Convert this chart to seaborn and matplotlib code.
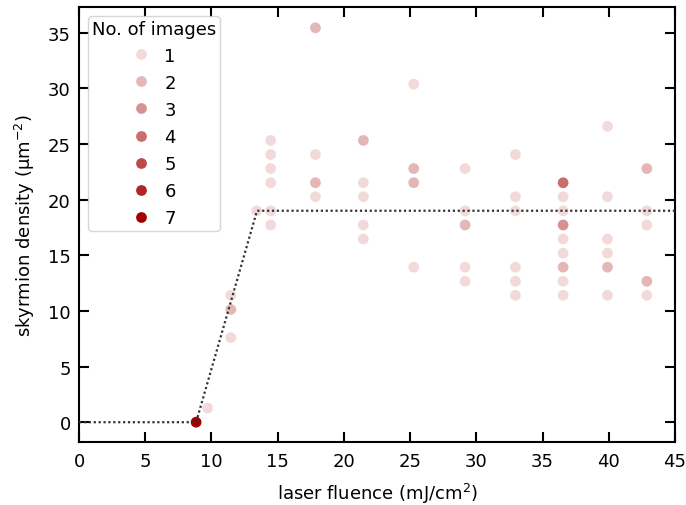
import matplotlib
matplotlib.use("Agg")
import matplotlib.pyplot as plt
import seaborn as sns
import pandas as pd

# ---- data ----
fluence = [8.84, 9.71,
           11.46, 11.46, 11.46,
           13.41,
           14.47, 14.47, 14.47, 14.47, 14.47, 14.47,
           17.85, 17.85, 17.85, 17.85,
           21.47, 21.47, 21.47, 21.47, 21.47,
           25.27, 25.27, 25.27, 25.27,
           29.15, 29.15, 29.15, 29.15, 29.15,
           32.95, 32.95, 32.95, 32.95, 32.95, 32.95,
           36.55, 36.55, 36.55, 36.55, 36.55, 36.55, 36.55, 36.55, 36.55,
           39.90, 39.90, 39.90, 39.90, 39.90, 39.90,
           42.87, 42.87, 42.87, 42.87, 42.87]
density = [0.0, 1.27,
           11.40, 10.13, 7.60,
           18.99,
           25.32, 24.05, 22.79, 21.52, 18.99, 17.72,
           35.44, 24.05, 21.52, 20.26,
           25.32, 21.52, 20.26, 17.72, 16.46,
           30.38, 22.79, 21.52, 13.93,
           22.79, 18.99, 17.72, 13.93, 12.66,
           24.05, 20.26, 18.99, 13.93, 12.66, 11.40,
           21.52, 20.26, 18.99, 17.72, 16.46, 15.19, 13.93, 12.66, 11.40,
           26.59, 20.26, 16.46, 15.19, 13.93, 11.40,
           22.79, 18.99, 17.72, 12.66, 11.40]
n_images = [7, 1,
            1, 2, 1,
            1,
            1, 1, 1, 1, 1, 1,
            2, 1, 2, 1,
            2, 1, 1, 1, 1,
            1, 2, 2, 1,
            1, 1, 2, 1, 1,
            1, 1, 1, 1, 1, 1,
            4, 1, 1, 3, 1, 1, 2, 1, 1,
            1, 1, 1, 1, 2, 1,
            2, 1, 1, 2, 1]
levels = [1, 2, 3, 4, 5, 6, 7]

fit_x = [0.0, 8.84, 13.44, 45.0]
fit_y = [0.0, 0.0, 19.0, 19.0]

df = pd.DataFrame({"fluence": fluence, "density": density, "No. of images": n_images})

plt.rcParams["font.family"] = ["DejaVu Sans"]
plt.rcParams["font.size"] = 13
plt.rcParams["mathtext.fontset"] = "dejavusans"

fig, ax = plt.subplots(figsize=(6.86, 5.06), dpi=100)
fig.subplots_adjust(left=0.1152, right=0.984, top=0.984, bottom=0.1245)

palette = sns.blend_palette(["#f2dada", "#a30000"], 7)

sns.scatterplot(data=df, x="fluence", y="density", hue="No. of images",
                hue_order=levels, palette=palette, s=60, linewidth=0,
                ax=ax, zorder=2)
ax.plot(fit_x, fit_y, linestyle=(0, (1, 1.2)), color="#333333", linewidth=1.6,
        zorder=3)

ax.set_xlim(0, 45)
ax.set_ylim(-1.78, 37.3)
ax.set_xticks(range(0, 46, 5))
ax.set_yticks(range(0, 36, 5))
ax.set_xlabel("laser fluence (mJ/cm$^2$)", labelpad=8)
ax.set_ylabel("skyrmion density (μm$^{-2}$)", labelpad=7.5)

for sp in ax.spines.values():
    sp.set_linewidth(1.5)
ax.tick_params(direction="in", length=7, width=1.5, top=True, right=True,
               labelsize=13)
ax.tick_params(axis="x", pad=7)
ax.tick_params(axis="y", pad=6)

leg = ax.legend(title="No. of images", loc="upper left", fontsize=13,
                title_fontsize=13, borderpad=0.2, handlelength=1.0,
                handletextpad=0.8, borderaxespad=0.5)

fig.savefig("out.png", dpi=100)
